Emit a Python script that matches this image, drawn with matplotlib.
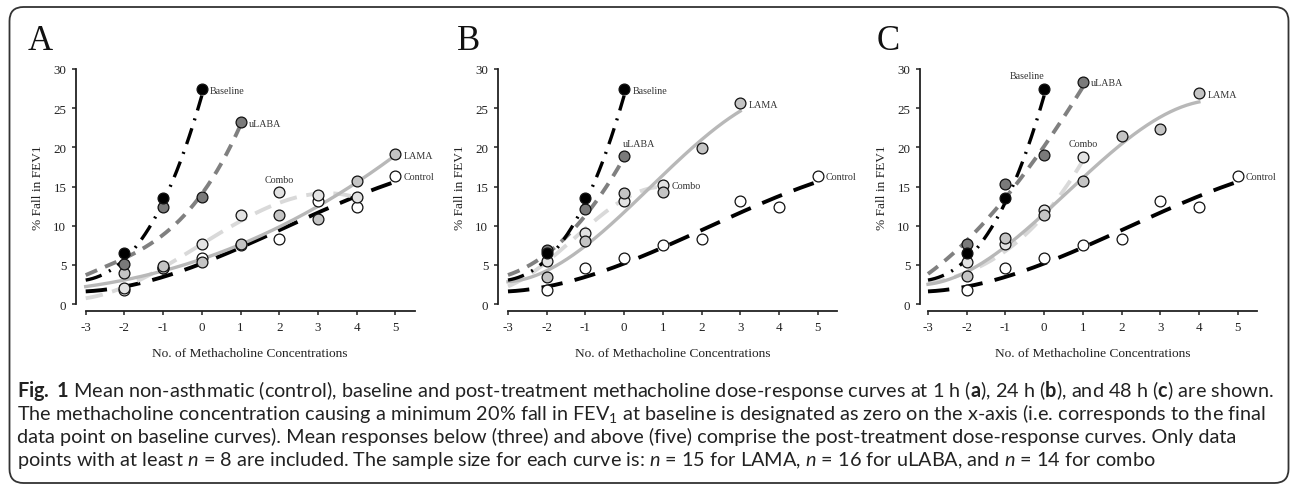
import matplotlib
matplotlib.use('Agg')
import matplotlib.pyplot as plt
import numpy as np
from matplotlib import font_manager
from matplotlib.patches import FancyBboxPatch
from matplotlib.transforms import IdentityTransform

# mean % fall in FEV1 at each number of methacholine concentrations
baseline_x = [-2, -1, 0]
baseline_y = [6.5, 13.5, 27.4]

control_x = [-2, -1, 0, 1, 2, 3, 4, 5]
control_y = [1.8, 4.6, 5.9, 7.5, 8.3, 13.2, 12.4, 16.4]

# panel A (1 h)
a_ulaba_x = [-2, -1, 0, 1]
a_ulaba_y = [5.1, 12.4, 13.6, 23.2]
a_lama_x = [-2, -1, 0, 1, 2, 3, 4, 5]
a_lama_y = [4.0, 4.9, 5.3, 7.7, 11.3, 10.9, 15.7, 19.1]
a_combo_x = [-2, -1, 0, 1, 2, 3, 4]
a_combo_y = [2.0, 4.6, 7.6, 11.4, 14.3, 13.9, 13.6]

# panel B (24 h)
b_ulaba_x = [-2, -1, 0]
b_ulaba_y = [6.9, 12.1, 18.9]
b_lama_x = [-2, -1, 0, 1, 2, 3]
b_lama_y = [3.5, 8.0, 14.15, 14.3, 19.9, 25.6]
b_combo_x = [-2, -1, 0, 1]
b_combo_y = [5.5, 9.1, 13.1, 15.2]

# panel C (48 h)
c_ulaba_x = [-2, -1, 0, 1]
c_ulaba_y = [7.6, 15.3, 19.0, 28.4]
c_lama_x = [-2, -1, 0, 1, 2, 3, 4]
c_lama_y = [3.6, 8.4, 11.4, 15.7, 21.5, 22.3, 26.9]
c_combo_x = [-2, -1, 0, 1]
c_combo_y = [5.4, 7.6, 12.0, 18.8]

# trendline values at x = -3, -2, ... (one per step)
baseline_trend = [3.05, 5.7, 13.0, 26.6]
control_trend = [1.57, 2.3, 3.45, 5.15, 7.15, 9.45, 11.7, 13.75, 15.6]
a_ulaba_trend = [3.7, 5.8, 8.9, 14.0, 22.85]
a_lama_trend = [2.25, 3.0, 4.25, 5.75, 7.65, 9.8, 12.4, 15.6, 18.95]
a_combo_trend = [0.7, 2.3, 4.55, 7.65, 10.6, 13.0, 14.0, 13.6]
b_ulaba_trend = [3.7, 6.4, 11.3, 18.7]
b_lama_trend = [2.8, 4.35, 7.4, 11.6, 16.5, 21.0, 24.6]
b_combo_trend = [2.3, 5.2, 9.9, 13.2, 15.0]
c_ulaba_trend = [3.85, 8.05, 13.6, 20.1, 27.7]
c_lama_trend = [2.5, 4.2, 7.2, 11.5, 16.2, 20.5, 23.7, 25.85]
c_combo_trend = [2.6, 4.0, 6.8, 11.3, 18.3]

panel_letters = ['A', 'B', 'C']
x_ticks = [-3, -2, -1, 0, 1, 2, 3, 4, 5]
y_ticks = [0, 5, 10, 15, 20, 25, 30]

caption = [
    r"$\mathbf{Fig.\ 1}$ Mean non-asthmatic (control), baseline and post-treatment methacholine dose-response curves at 1 h ($\mathbf{a}$), 24 h ($\mathbf{b}$), and 48 h ($\mathbf{c}$) are shown.",
    r"The methacholine concentration causing a minimum 20% fall in FEV$_1$ at baseline is designated as zero on the x-axis (i.e. corresponds to the final",
    r"data point on baseline curves). Mean responses below (three) and above (five) comprise the post-treatment dose-response curves. Only data",
    r"points with at least $n$ = 8 are included. The sample size for each curve is: $n$ = 15 for LAMA, $n$ = 16 for uLABA, and $n$ = 14 for combo",
]

style = {
    'Baseline': dict(color='black', ls=(0, (5, 2.5, 0.6, 2.5)), lw=2.4, fc='black'),
    'uLABA': dict(color='#808080', ls=(0, (3.2, 2.2)), lw=2.8, fc='#7a7a7a'),
    'LAMA': dict(color='#b8b8b8', ls='-', lw=2.4, fc='#c4c4c4'),
    'Combo': dict(color='#d9d9d9', ls=(0, (4.5, 2.5)), lw=2.8, fc='#e2e2e2'),
    'Control': dict(color='black', ls=(0, (5.5, 3.2)), lw=2.8, fc='white'),
}

panels = [
    [('Control', control_x, control_y, control_trend, 'r'),
     ('Combo', a_combo_x, a_combo_y, a_combo_trend, 'u'),
     ('LAMA', a_lama_x, a_lama_y, a_lama_trend, 'r'),
     ('uLABA', a_ulaba_x, a_ulaba_y, a_ulaba_trend, 'r'),
     ('Baseline', baseline_x, baseline_y, baseline_trend, 'r')],
    [('Control', control_x, control_y, control_trend, 'r'),
     ('Combo', b_combo_x, b_combo_y, b_combo_trend, 'r'),
     ('LAMA', b_lama_x, b_lama_y, b_lama_trend, 'r'),
     ('uLABA', b_ulaba_x, b_ulaba_y, b_ulaba_trend, 'ul'),
     ('Baseline', baseline_x, baseline_y, baseline_trend, 'r')],
    [('Control', control_x, control_y, control_trend, 'r'),
     ('Combo', c_combo_x, c_combo_y, c_combo_trend, 'u'),
     ('LAMA', c_lama_x, c_lama_y, c_lama_trend, 'r'),
     ('uLABA', c_ulaba_x, c_ulaba_y, c_ulaba_trend, 'r'),
     ('Baseline', baseline_x, baseline_y, baseline_trend, 'ur')],
]

label_offsets = {
    'r': dict(xytext=(6, 0), ha='left', va='center_baseline'),
    'u': dict(xytext=(0, 6), ha='center', va='bottom'),
    'ul': dict(xytext=(-1, 6), ha='left', va='bottom'),
    'ur': dict(xytext=(0, 7), ha='right', va='bottom'),
}


def smooth(trend):
    # smooth trendline through the values read at x = -3, -2, ...
    tx = np.arange(-3, -3 + len(trend))
    deg = min(3, len(trend) - 1)
    xs = np.linspace(tx[0], tx[-1], 200)
    return xs, np.polyval(np.polyfit(tx, trend, deg), xs)


plt.rcParams['font.family'] = ['Liberation Serif', 'DejaVu Serif']
plt.rcParams['axes.unicode_minus'] = False

fig = plt.figure(figsize=(12.92, 4.85), dpi=100)
W, H = 1292, 485

axes_px = [(85.7, 76), (508, 498), (928, 920)]  # x=-3 position, y spine position
for i, (x0, spine_x) in enumerate(axes_px):
    unit = 38.7
    ax = fig.add_axes([x0 / W, (H - 305) / H, unit * 8.5 / W, 235 / H])
    ax.set_xlim(-3, 5.5)
    ax.set_ylim(0, 30)
    for sp in ['top', 'right']:
        ax.spines[sp].set_visible(False)
    ax.spines['left'].set_position(('outward', (x0 - spine_x) * 72 / 100))
    ax.spines['bottom'].set_position(('outward', 7 * 72 / 100))
    ax.spines['left'].set_bounds(0, 30)
    for sp in ['left', 'bottom']:
        ax.spines[sp].set_linewidth(1.3)
        ax.spines[sp].set_color('#222222')
    ax.set_xticks(x_ticks)
    ax.set_yticks(y_ticks)
    ax.tick_params(direction='out', length=3, width=1.1, colors='#222222',
                   labelsize=9.4, pad=4)
    ax.set_xlabel('No. of Methacholine Concentrations', fontsize=9.6,
                  color='#222222', labelpad=10)
    ax.set_ylabel('% Fall in FEV1', fontsize=9.6, color='#222222', labelpad=7)

    for name, xs, ys, tr, pos in panels[i]:
        st = style[name]
        tx, ty = smooth(tr)
        ax.plot(tx, ty, color=st['color'], ls=st['ls'], lw=st['lw'],
                zorder=2, clip_on=False)
    for name, xs, ys, tr, pos in panels[i]:
        st = style[name]
        ax.plot(xs, ys, 'o', ms=7.8, mfc=st['fc'], mec='#111111', mew=0.9,
                zorder=3, clip_on=False, ls='none')
        k = int(np.argmax(ys))
        ax.annotate(name, (xs[k], ys[k]), textcoords='offset points',
                    fontsize=7.2, color='#333333', **label_offsets[pos])

    lx = [40, 469, 888][i]
    fig.text(lx / W, 1 - 42 / H, panel_letters[i], fontsize=25,
             ha='center', va='center', color='#111111')

# rounded frame around figure and caption
frame = FancyBboxPatch((9.5, 1), 1279, 476,
                       boxstyle='round,pad=0,rounding_size=14',
                       transform=IdentityTransform(), fill=False,
                       lw=1.3, ec='#333333')
fig.add_artist(frame)

# caption font: a narrow humanist sans
names = {f.name for f in font_manager.fontManager.ttflist}
cap_font = 'Lato' if 'Lato' in names else 'Liberation Sans'
plt.rcParams['mathtext.fontset'] = 'custom'
plt.rcParams['mathtext.rm'] = cap_font
plt.rcParams['mathtext.it'] = cap_font + ':italic'
plt.rcParams['mathtext.bf'] = cap_font + ':bold'

baselines = [397, 420, 443, 466]
cap_texts = []
for line, yb in zip(caption, baselines):
    t = fig.text(17 / W, 1 - yb / H, line, fontsize=14, family=cap_font,
                 ha='left', va='baseline', color='#222222')
    cap_texts.append(t)

fig.canvas.draw()
r = fig.canvas.get_renderer()
w0 = cap_texts[0].get_window_extent(r).width
scale = (1275 - 17) / w0
for t in cap_texts:
    t.set_fontsize(14 * scale)

fig.savefig('out.png', dpi=100)
